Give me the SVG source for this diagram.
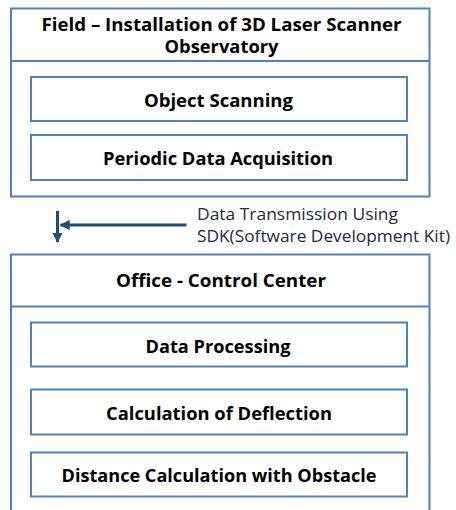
<svg xmlns="http://www.w3.org/2000/svg" width="456" height="510" viewBox="0 0 456 510">
<style>
.box{fill:#ffffff;stroke:#4F81BD;stroke-width:2}
.t{font-family:"Open Sans","Liberation Sans",sans-serif;font-weight:bold;font-size:17.5px;fill:#000;text-anchor:middle}
.lbl{font-family:"Open Sans","Liberation Sans",sans-serif;font-size:16.5px;fill:#1b2a44}
.conn{stroke:#1F4E79;stroke-width:3;fill:none}
</style>
<defs>
<marker id="ah" viewBox="0 0 10 10" refX="9" refY="5" markerWidth="3.4" markerHeight="3.4" orient="auto">
<path d="M0,0 L10,5 L0,10 z" fill="#1F4E79"/>
</marker>
</defs>
<rect width="456" height="510" fill="#ffffff"/>
<g id="field">
<rect class="box" x="11" y="8.5" width="418.5" height="188"/>
<line x1="11" y1="61" x2="429.5" y2="61" stroke="#4F81BD" stroke-width="2"/>
<text class="t" x="221.5" y="30.5" textLength="360" lengthAdjust="spacingAndGlyphs">Field – Installation of 3D Laser Scanner</text>
<text class="t" x="221.5" y="53" textLength="114" lengthAdjust="spacingAndGlyphs">Observatory</text>
</g>
<g id="object-scanning">
<rect class="box" x="31" y="77" width="376" height="44"/>
<text class="t" x="218.5" y="106.5" textLength="149" lengthAdjust="spacingAndGlyphs">Object Scanning</text>
</g>
<g id="periodic">
<rect class="box" x="31" y="135" width="376" height="45"/>
<text class="t" x="218" y="165" textLength="230" lengthAdjust="spacingAndGlyphs">Periodic Data Acquisition</text>
</g>
<g id="connectors">
<line class="conn" x1="57.5" y1="211" x2="57.5" y2="242" marker-end="url(#ah)"/>
<line class="conn" x1="186.5" y1="225" x2="60.5" y2="225" marker-end="url(#ah)"/>
<text class="lbl" x="197" y="220" textLength="201" lengthAdjust="spacingAndGlyphs">Data Transmission Using</text>
<text class="lbl" x="197" y="241.5" textLength="253" lengthAdjust="spacingAndGlyphs">SDK(Software Development Kit)</text>
</g>
<g id="office">
<rect class="box" x="11" y="254.5" width="418.5" height="270"/>
<line x1="11" y1="306.5" x2="429.5" y2="306.5" stroke="#4F81BD" stroke-width="2"/>
<text class="t" x="221" y="286.5" textLength="210" lengthAdjust="spacingAndGlyphs">Office - Control Center</text>
</g>
<g id="data-processing">
<rect class="box" x="31" y="322.5" width="376" height="44"/>
<text class="t" x="218" y="352.5" textLength="145" lengthAdjust="spacingAndGlyphs">Data Processing</text>
</g>
<g id="deflection">
<rect class="box" x="31" y="389.5" width="376" height="45"/>
<text class="t" x="219" y="419.5" textLength="226" lengthAdjust="spacingAndGlyphs">Calculation of Deflection</text>
</g>
<g id="distance">
<rect class="box" x="31" y="452.5" width="376" height="44"/>
<text class="t" x="219" y="482" textLength="315" lengthAdjust="spacingAndGlyphs">Distance Calculation with Obstacle</text>
</g>
</svg>
